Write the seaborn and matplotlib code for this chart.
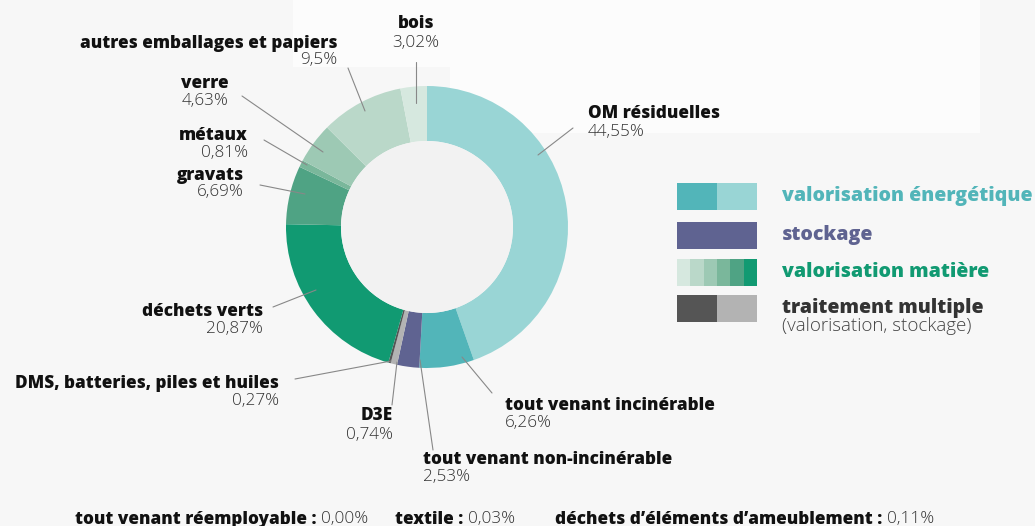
import matplotlib
matplotlib.use("Agg")
import matplotlib.pyplot as plt
from matplotlib.patches import Rectangle, Polygon
import seaborn as sns

sns.set_theme(style="white")
plt.rcParams['font.family'] = ['Open Sans', 'DejaVu Sans']

# ---- data ----
categories = ["OM résiduelles", "tout venant incinérable", "tout venant non-incinérable",
              "D3E", "DMS, batteries, piles et huiles", "déchets verts", "gravats",
              "métaux", "verre", "autres emballages et papiers", "bois"]
values = [44.55, 6.26, 2.53, 0.74, 0.27, 20.87, 6.69, 0.81, 4.63, 9.5, 3.02]
value_labels = ["44,55%", "6,26%", "2,53%", "0,74%", "0,27%", "20,87%", "6,69%",
                "0,81%", "4,63%", "9,5%", "3,02%"]
colors = ["#99d5d5", "#52b5b9", "#5f6391", "#b3b3b3", "#555555", "#119a72",
          "#4fa384", "#7ab79b", "#9dc9b4", "#bad8c9", "#d6e8df"]
extra_names = ["tout venant réemployable :", "textile :", "déchets d’éléments d’ameublement :"]
extra_values = ["0,00%", "0,03%", "0,11%"]
legend_names = ["valorisation énergétique", "stockage", "valorisation matière", "traitement multiple"]
legend_colors = ["#52b5b9", "#5f6391", "#119a72", "#333333"]
legend_swatches = [["#52b5b9", "#99d5d5"], ["#5f6391"],
                   ["#d6e8df", "#bad8c9", "#9dc9b4", "#7ab79b", "#4fa384", "#119a72"],
                   ["#555555", "#b3b3b3"]]

W, H = 1035, 526
fig = plt.figure(figsize=(W / 100, H / 100), dpi=100)
fig.patch.set_facecolor("#f7f7f7")
ax = fig.add_axes([0, 0, 1, 1])
ax.set_facecolor("#f7f7f7")

def Y(y):
    return H - y

# subtle lighter background shape
ax.add_patch(Polygon([(293, Y(0)), (980, Y(0)), (980, Y(133)), (450, Y(133)),
                      (450, Y(67)), (293, Y(67))], closed=True,
                     facecolor="#fcfcfc", edgecolor="none", zorder=0))

cx, cy, R = 427, Y(227), 141
wedges, _ = ax.pie(values, colors=colors, startangle=90, counterclock=False,
                   radius=R, center=(cx, cy),
                   wedgeprops=dict(width=R * 0.39, edgecolor="none"))
ax.add_patch(plt.Circle((cx, cy), R * 0.61, facecolor="#f2f2f2", edgecolor="none", zorder=3))
ax.set_xlim(0, W)
ax.set_ylim(0, H)
ax.set_aspect("auto")
ax.axis("off")

FS = 12.3
FSP = 12.3
BW = 800
PCOL = "#333333"
# (label x, name y, pct y, ha, line start, line end)
label_pos = [
    (588, 114, 132, "left", (573, 128), (538, 155)),
    (505, 405, 423, "left", (492, 393), (462, 357)),
    (423, 459, 477, "left", (433, 450), (420, 360)),
    (393, 415, 435, "right", (392, 405), (397, 362)),
    (279, 383, 401, "right", (295, 379), (391, 361)),
    (263, 312, 329, "right", (273, 307), (316, 290)),
    (244, 175, 192, "right", (260, 185), (305, 194)),
    (248, 135, 153, "right", (264, 140), (307, 165)),
    (229, 83, 101, "right", (242, 96), (323, 152)),
    (337, 43, 60, "right", (348, 68), (365, 111)),
    (416, 24, 43, "center", (416, 62), (416, 103)),
]
for name, pct, (x, yn, yp, ha, p0, p1) in zip(categories, value_labels, label_pos):
    ax.text(x, Y(yn), name, ha=ha, va="center", fontsize=FS, fontweight=BW, color="#111111")
    ax.text(x, Y(yp), pct, ha=ha, va="center", fontsize=FSP, fontweight="light", color=PCOL)
    ax.plot([p0[0], p1[0]], [Y(p0[1]), Y(p1[1])], color="#888888", lw=0.8, zorder=5)

# legend
rows_y = [183, 222, 259, 295]
for sw, name, col, ry in zip(legend_swatches, legend_names, legend_colors, rows_y):
    n = len(sw)
    w = 80 / n
    for i, c in enumerate(sw):
        ax.add_patch(Rectangle((677 + i * w, Y(ry + 27)), w, 27, facecolor=c, edgecolor="none"))
    ax.text(782, Y(ry + 13), name, ha="left", va="center", fontsize=14,
            fontweight=BW, color=col)
ax.text(782, Y(326), "(valorisation, stockage)", ha="left", va="center", fontsize=13.5,
        fontweight="light", color="#444444")

# bottom line
xs = [75, 395, 555]
for x, n, v in zip(xs, extra_names, extra_values):
    t = ax.text(x, Y(519), n + " ", ha="left", va="center", fontsize=FS,
                fontweight=BW, color="#111111")
    fig.canvas.draw()
    bb = t.get_window_extent()
    ax.text(bb.x1, Y(519), v, ha="left", va="center", fontsize=FSP,
            fontweight="light", color=PCOL)

fig.savefig("out.png", dpi=100, facecolor=fig.get_facecolor())
